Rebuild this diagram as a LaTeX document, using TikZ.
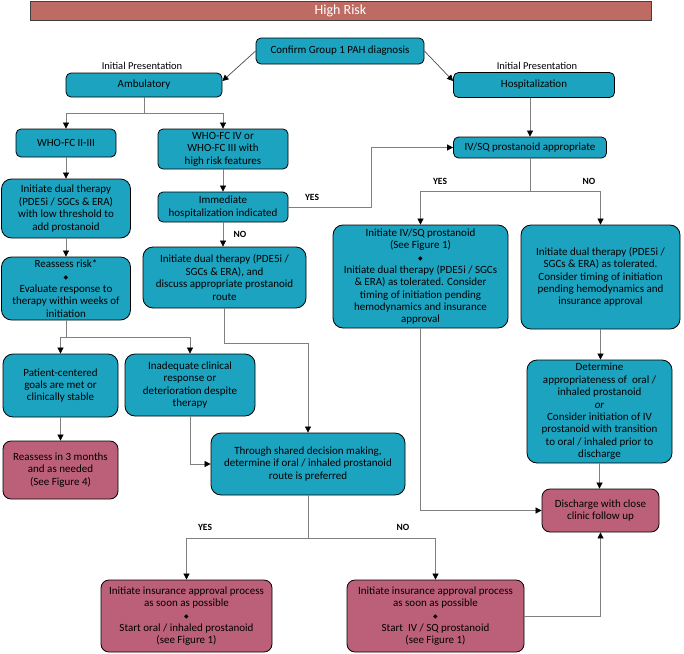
\documentclass[tikz,border=0pt]{standalone}
\usepackage{fontspec}
\setmainfont{Carlito}
\newfontfamily\symfont{DejaVu Sans}
\usetikzlibrary{arrows.meta}
\definecolor{tealbox}{HTML}{1CA3C0}
\definecolor{pinkbox}{HTML}{BC607A}
\definecolor{headbar}{HTML}{BD6B63}
\newcommand{\dmd}{{\symfont\fontsize{6}{7}\selectfont ◆}}

\begin{document}
\begin{tikzpicture}[x=1pt,y=-1pt,
    box/.style={draw=black,line width=0.8pt,fill=tealbox,rounded corners=5pt,align=center,inner sep=2pt,font=\fontsize{11}{12.4}\selectfont},
    bigbox/.style={box,rounded corners=10pt},
    endbox/.style={box,fill=pinkbox,rounded corners=8pt},
    line/.style={draw=gray,line width=0.7pt},
    arr/.style={line,-{Triangle[length=6pt,width=6pt,color=black]}},
    lbl/.style={font=\bfseries\fontsize{9.5}{11}\selectfont},
    pres/.style={font=\fontsize{10.5}{12}\selectfont}]
        \useasboundingbox (0,0) rectangle (684,653);
        \node[draw=black!75,line width=0.8pt,fill=headbar,minimum width=621pt,minimum height=18pt,text=white,font=\fontsize{14}{15}\selectfont] (head) at (340.5,11) {High Risk};

        \node[box,minimum width=168pt,minimum height=26pt] (confirm) at (340,51) {Confirm Group 1 PAH diagnosis};
        \node[pres] (presL) at (142,66) {Initial Presentation};
        \node[pres] (presR) at (537,66) {Initial Presentation};
        \node[box,minimum width=156pt,minimum height=24pt] (amb) at (144,85) {Ambulatory};
        \node[box,minimum width=161pt,minimum height=25pt] (hosp) at (534,85) {Hospitalization};

        \node[box,minimum width=100pt,minimum height=28pt] (whoA) at (66,143) {WHO-FC II-III};
        \node[box,minimum width=130pt,minimum height=40pt] (whoB) at (223,149) {WHO-FC IV or\\WHO-FC III with\\high risk features};
        \node[box,minimum width=130pt,minimum height=30pt] (hospind) at (223,207) {Immediate\\hospitalization indicated};
        \node[bigbox,minimum width=129pt,minimum height=59pt] (dualA) at (66,208.5) {Initiate dual therapy\\(PDE5i / SGCs \& ERA)\\with low threshold to\\add prostanoid};
        \node[bigbox,minimum width=129pt,minimum height=63pt] (reassess) at (66,288.5) {Reassess risk*\\\dmd\\Evaluate response to\\therapy within weeks of\\initiation};
        \node[bigbox,minimum width=163pt,minimum height=61pt] (dualB) at (224.5,277.5) {Initiate dual therapy (PDE5i /\\SGCs \& ERA), and\\discuss appropriate prostanoid\\route};
        \node[bigbox,minimum width=115pt,minimum height=63pt] (goals) at (60.5,385.5) {Patient-centered\\goals are met or\\clinically stable};
        \node[bigbox,minimum width=130pt,minimum height=62pt] (inadeq) at (190,385) {Inadequate clinical\\response or\\deterioration despite\\therapy};
        \node[endbox,minimum width=115pt,minimum height=58pt] (reass3) at (60.5,470) {Reassess in 3 months\\and as needed\\(See Figure 4)};
        \node[bigbox,minimum width=194pt,minimum height=62pt] (shared) at (308,464) {Through shared decision making,\\determine if oral / inhaled prostanoid\\route is preferred};

        \node[box,minimum width=153pt,minimum height=21pt] (ivsq) at (530,147.5) {IV/SQ prostanoid appropriate};
        \node[bigbox,minimum width=175pt,minimum height=103pt] (initiv) at (420.5,276.5) {Initiate IV/SQ prostanoid\\(See Figure 1)\\\dmd\\Initiate dual therapy (PDE5i / SGCs\\\& ERA) as tolerated. Consider\\timing of initiation pending\\hemodynamics and insurance\\approval};
        \node[bigbox,minimum width=159pt,minimum height=104pt] (dualC) at (600.5,277) {Initiate dual therapy (PDE5i /\\SGCs \& ERA) as tolerated.\\Consider timing of initiation\\pending hemodynamics and\\insurance approval};
        \node[bigbox,minimum width=145pt,minimum height=103pt] (determine) at (599.5,411.5) {Determine\\appropriateness of~ oral /\\inhaled prostanoid\\\textit{or}\\Consider initiation of IV\\prostanoid with transition\\to oral / inhaled prior to\\discharge};
        \node[endbox,minimum width=117pt,minimum height=43pt] (discharge) at (600.5,510.5) {Discharge with close\\clinic follow up};
        \node[endbox,minimum width=171pt,minimum height=72pt] (insL) at (186.5,616) {Initiate insurance approval process\\as soon as possible\\\dmd\\Start oral / inhaled prostanoid\\(see Figure 1)};
        \node[endbox,minimum width=177pt,minimum height=72pt] (insR) at (435.5,616) {Initiate insurance approval process\\as soon as possible\\\dmd\\Start~ IV / SQ prostanoid\\(see Figure 1)};

        \node[lbl] (yesA) at (312,197) {YES};
        \node[lbl] (noA) at (240,234) {NO};
        \node[lbl] (yesB) at (440,181) {YES};
        \node[lbl] (noB) at (589,181) {NO};
        \node[lbl] (yesC) at (205,527) {YES};
        \node[lbl] (noC) at (403,527) {NO};

        \draw[arr,draw=black!70] (confirm.west) -- ([yshift=4pt]amb.east);
        \draw[arr,draw=black!70] (confirm.east) -- ([yshift=4pt]hosp.west);
        \draw[line] (amb.south) -- ++(0,16) coordinate (ambsplit);
        \draw[arr] (ambsplit) -| (whoA.north);
        \draw[arr] (ambsplit) -| (whoB.north);
        \draw[arr] (whoA) -- (dualA);
        \draw[arr] (dualA) -- (reassess);
        \draw[line] (reassess.south) -- ++(0,17) coordinate (rsplit);
        \draw[arr] (rsplit) -| (goals.north);
        \draw[arr] (rsplit) -| (inadeq.north);
        \draw[arr] (goals) -- (reass3);
        \draw[arr] (inadeq.south) |- (shared.west);
        \draw[arr] (whoB) -- (hospind);
        \draw[arr] (hospind.south) -- (hospind.south |- dualB.north);
        \draw[arr] (hospind.east) -- ++(83,0) |- (ivsq.west);
        \draw[arr] (dualB.south) -- ++(0,35) -| (shared.north);
        \draw[arr] (hosp.south -| ivsq.north) -- (ivsq.north);
        \draw[line] (ivsq.south) -- ++(0,33) coordinate (ivsplit);
        \draw[arr] (ivsplit) -| (initiv.north);
        \draw[arr] (ivsplit) -| (dualC.north);
        \draw[arr] (initiv.south) |- (discharge.west);
        \draw[arr] (dualC.south) -- (dualC.south |- determine.north);
        \draw[arr] (determine.south) -- (determine.south |- discharge.north);
        \draw[line] (shared.south) -- ++(0,43) coordinate (shsplit);
        \draw[arr] (shsplit) -| (insL.north);
        \draw[arr] (shsplit) -| (insR.north);
        \draw[arr] (insR.east) -| (discharge.south);
\end{tikzpicture}
\end{document}
